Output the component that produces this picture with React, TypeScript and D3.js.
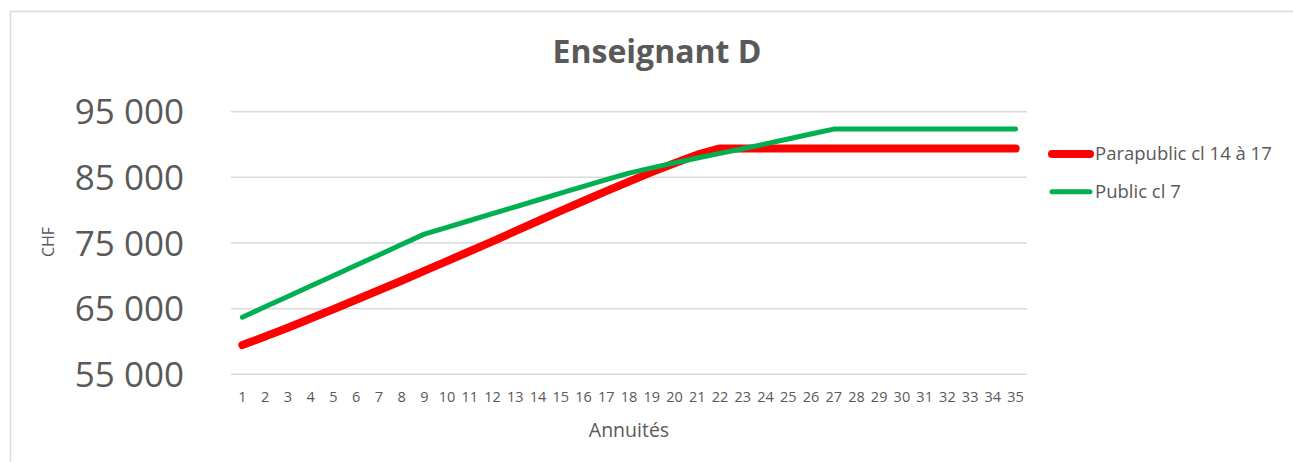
import { useEffect, useRef } from 'react';
import * as d3 from 'd3';

const annuites = d3.range(1, 36).map(String);

const parapublic = [
  59450, 60750, 62100, 63500, 64900, 66350, 67800, 69250, 70750, 72250,
  73750, 75250, 76800, 78350, 79900, 81400, 82900, 84350, 85800, 87150,
  88450, 89400, 89400, 89400, 89400, 89400, 89400, 89400, 89400, 89400,
  89400, 89400, 89400, 89400, 89400,
];

const publicCl7 = [
  63700, 65280, 66860, 68440, 70020, 71600, 73180, 74760, 76350, 77390,
  78430, 79470, 80510, 81550, 82590, 83630, 84650, 85650, 86450, 87200,
  87950, 88650, 89350, 90100, 90850, 91600, 92350, 92350, 92350, 92350,
  92350, 92350, 92350, 92350, 92350,
];

const yTicks = [55000, 65000, 75000, 85000, 95000];

const series = [
  { name: 'Parapublic cl 14 à 17', values: parapublic, color: '#ff0000', width: 8 },
  { name: 'Public cl 7', values: publicCl7, color: '#00b050', width: 5 },
];

function App() {
  const svgRef = useRef<SVGSVGElement>(null);

  useEffect(() => {
    const width = 1293;
    const height = 462;
    const plot = { left: 231, right: 1027, top: 111.7, bottom: 374.3 };
    const textColor = '#595959';
    const font = "'Open Sans', sans-serif";

    const svg = d3.select(svgRef.current)
      .attr('width', width)
      .attr('height', height);

    svg.selectAll('*').remove();

    svg.append('rect')
      .attr('x', 10.5).attr('y', 11.5)
      .attr('width', 1300).attr('height', 470)
      .attr('fill', '#fff')
      .attr('stroke', '#d9d9d9')
      .attr('stroke-width', 1.5);

    const x = d3.scalePoint()
      .domain(annuites)
      .range([plot.left, plot.right])
      .padding(0.5);

    const y = d3.scaleLinear()
      .domain([55000, 95000])
      .range([plot.bottom, plot.top]);

    // grid
    svg.append('g')
      .selectAll('line')
      .data(yTicks)
      .enter()
      .append('line')
      .attr('x1', plot.left)
      .attr('x2', plot.right)
      .attr('y1', d => y(d))
      .attr('y2', d => y(d))
      .attr('stroke', '#d9d9d9')
      .attr('stroke-width', 1.5);

    // y axis labels
    const fmt = (v: number) => d3.format(',')(v).replace(',', ' ');
    svg.append('g')
      .selectAll('text')
      .data(yTicks)
      .enter()
      .append('text')
      .attr('x', 184)
      .attr('y', d => y(d))
      .attr('dy', '0.36em')
      .attr('text-anchor', 'end')
      .attr('font-family', font)
      .attr('font-size', 35)
      .attr('fill', textColor)
      .text(d => fmt(d));

    // x axis labels
    svg.append('g')
      .selectAll('text')
      .data(annuites)
      .enter()
      .append('text')
      .attr('x', d => x(d) as number)
      .attr('y', 397)
      .attr('dy', '0.35em')
      .attr('text-anchor', 'middle')
      .attr('font-family', font)
      .attr('font-size', 14.5)
      .attr('fill', textColor)
      .text(d => d);

    svg.append('text')
      .attr('x', 629)
      .attr('y', 430)
      .attr('dy', '0.35em')
      .attr('text-anchor', 'middle')
      .attr('font-family', font)
      .attr('font-size', 19.5)
      .attr('fill', textColor)
      .text('Annuités');

    svg.append('text')
      .attr('transform', 'translate(48, 242) rotate(-90)')
      .attr('dy', '0.35em')
      .attr('text-anchor', 'middle')
      .attr('font-family', font)
      .attr('font-size', 16)
      .attr('fill', textColor)
      .text('CHF');

    svg.append('text')
      .attr('x', 657)
      .attr('y', 52)
      .attr('dy', '0.35em')
      .attr('text-anchor', 'middle')
      .attr('font-family', font)
      .attr('font-weight', 'bold')
      .attr('font-size', 32)
      .attr('fill', textColor)
      .text('Enseignant D');

    const line = d3.line<number>()
      .x((_, i) => x(annuites[i]) as number)
      .y(d => y(d));

    series.forEach(s => {
      svg.append('path')
        .datum(s.values)
        .attr('d', line)
        .attr('fill', 'none')
        .attr('stroke', s.color)
        .attr('stroke-width', s.width)
        .attr('stroke-linecap', 'round')
        .attr('stroke-linejoin', 'round');
    });

    // legend
    const legend = svg.append('g');
    series.forEach((s, i) => {
      const ly = 154 + i * 37.7;
      legend.append('line')
        .attr('x1', 1052).attr('x2', 1090)
        .attr('y1', ly).attr('y2', ly)
        .attr('stroke', s.color)
        .attr('stroke-width', s.width)
        .attr('stroke-linecap', 'round');
      legend.append('text')
        .attr('x', 1095)
        .attr('y', ly)
        .attr('dy', '0.35em')
        .attr('font-family', font)
        .attr('font-size', 18.5)
        .attr('fill', textColor)
        .text(s.name);
    });
  }, []);

  return (
    <div style={{ position: 'absolute', left: 0, top: 0 }}>
      <svg ref={svgRef}></svg>
    </div>
  );
}

export default App;
